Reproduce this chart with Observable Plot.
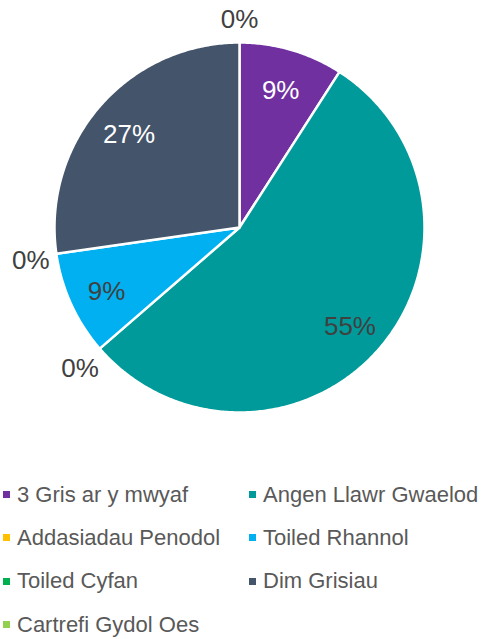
<!DOCTYPE html>
<html><head><meta charset="utf-8">
<script src="https://cdn.jsdelivr.net/npm/d3@7"></script>
<script src="https://cdn.jsdelivr.net/npm/@observablehq/plot@0.6"></script>
<style>
body{margin:0;background:#fff;font-family:"Liberation Sans",Arial,sans-serif;}
#wrap{position:relative;width:484px;height:639px;overflow:hidden;}
#legend{position:absolute;left:3px;top:473px;display:grid;grid-template-columns:246px 235px;}
.item{display:flex;align-items:center;height:43.3px;font-size:22px;color:#595959;white-space:nowrap;}
.sw{width:7px;height:7px;margin-right:7px;flex:none;}
</style></head><body><div id="wrap"><div id="chart"></div><div id="legend"></div></div>
<script>
const categories = ["3 Gris ar y mwyaf","Angen Llawr Gwaelod","Addasiadau Penodol","Toiled Rhannol","Toiled Cyfan","Dim Grisiau","Cartrefi Gydol Oes"];
const counts = [1, 6, 0, 1, 0, 3, 0];
const colors = ["#7030A0","#009A9A","#FFC000","#00B0F0","#00B050","#44546A","#92D050"];
const whiteLabel = ["3 Gris ar y mwyaf","Dim Grisiau"];

const total = d3.sum(counts);
const arcs = d3.pie().sort(null).value(d => d.value)(categories.map((c, i) => ({name: c, value: counts[i]})));

// polygon points for each slice (unit circle)
const pts = [];
arcs.forEach(a => {
  if (a.data.value === 0) return;
  pts.push({name: a.data.name, x: 0, y: 0});
  const n = Math.max(2, Math.ceil((a.endAngle - a.startAngle) / 0.01));
  for (let k = 0; k <= n; k++) {
    const t = a.startAngle + (a.endAngle - a.startAngle) * k / n;
    pts.push({name: a.data.name, x: Math.sin(t), y: Math.cos(t)});
  }
});

const labels = arcs.map(a => {
  const mid = (a.startAngle + a.endAngle) / 2;
  const r = a.data.value === 0 ? 1.14 : 0.79;
  return {name: a.data.name, x: r * Math.sin(mid), y: r * Math.cos(mid),
          text: Math.round(a.data.value / total * 100) + "%", inside: a.data.value > 0};
});

const font = '"Liberation Sans", Arial, sans-serif';
const chart = Plot.plot({
  width: 484, height: 440,
  marginLeft: 54, marginRight: 60, marginTop: 42, marginBottom: 28,
  x: {domain: [-1, 1], axis: null},
  y: {domain: [-1, 1], axis: null},
  color: {domain: categories, range: colors},
  style: {fontFamily: font, background: "white", overflow: "visible"},
  marks: [
    Plot.line(pts, {x: "x", y: "y", z: "name", fill: "name", stroke: "white", strokeWidth: 2.5, curve: "linear-closed"}),
    Plot.text(labels.filter(l => whiteLabel.includes(l.name) && l.inside), {x: "x", y: "y", text: "text", fill: "white", fontSize: 26, dy: 3}),
    Plot.text(labels.filter(l => !(whiteLabel.includes(l.name) && l.inside)), {x: "x", y: "y", text: "text", fill: "#404040", fontSize: 26, dy: 3})
  ]
});
document.getElementById("chart").appendChild(chart);

const legend = document.getElementById("legend");
categories.forEach((c, i) => {
  const it = document.createElement("div");
  it.className = "item";
  const sw = document.createElement("span");
  sw.className = "sw"; sw.style.background = colors[i];
  it.appendChild(sw);
  it.appendChild(document.createTextNode(c));
  legend.appendChild(it);
});
</script></body></html>
